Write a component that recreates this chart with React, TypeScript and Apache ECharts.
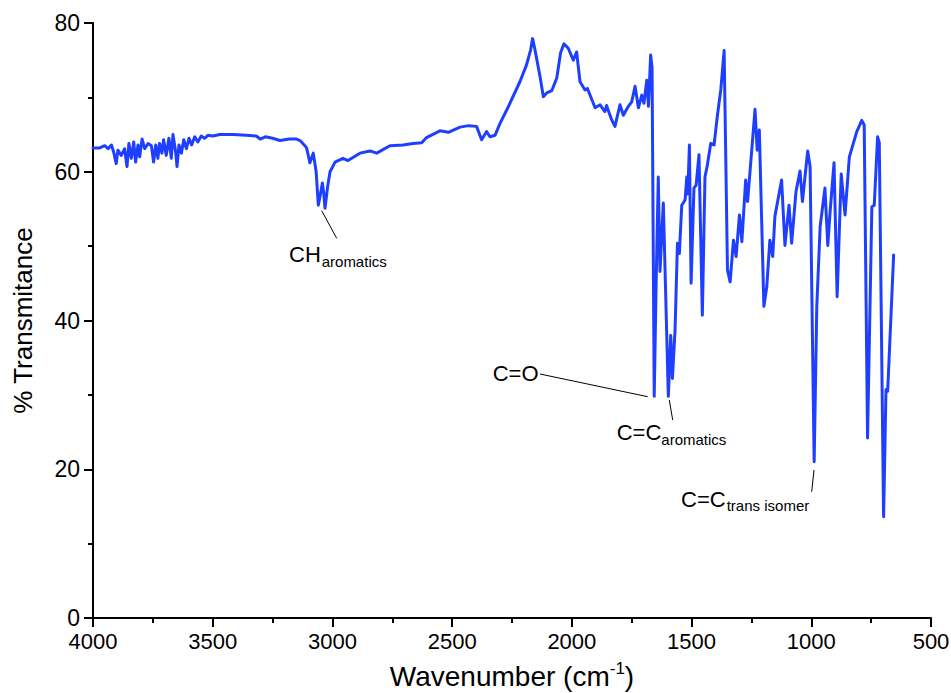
import React, { useEffect, useRef } from "react";
import * as echarts from "echarts";

const FONT = "'Liberation Sans', Arial, Helvetica, sans-serif";

// Wavenumber (cm-1) and % transmittance
const wavenumbers: number[] = [
  4000, 3972, 3951, 3937, 3923, 3914, 3903, 3896, 3882, 3868, 3858, 3850, 3840, 3830, 3822, 3812,
  3805, 3795, 3784, 3770, 3756, 3747, 3738, 3729, 3722, 3712, 3705, 3694, 3683, 3673, 3666, 3655,
  3649, 3641, 3631, 3621, 3610, 3599, 3588, 3575, 3562, 3548, 3534, 3520, 3499, 3471, 3415, 3360,
  3318, 3302, 3280, 3250, 3219, 3180, 3150, 3135, 3115, 3108, 3094, 3080, 3068, 3059, 3050, 3042,
  3036, 3031, 3020, 3010, 2989, 2956, 2935, 2885, 2843, 2815, 2760, 2705, 2663, 2627, 2607, 2551,
  2516, 2467, 2432, 2398, 2377, 2356, 2342, 2321, 2300, 2272, 2217, 2189, 2172, 2164, 2154, 2133,
  2119, 2105, 2084, 2063, 2047, 2033, 2015, 1994, 1980, 1966, 1945, 1935, 1903, 1882, 1862, 1855,
  1834, 1820, 1799, 1785, 1764, 1750, 1736, 1722, 1708, 1699, 1687, 1680, 1671, 1665, 1656, 1648,
  1639, 1632, 1618, 1597, 1587, 1580, 1569, 1559, 1551, 1541, 1527, 1520, 1516, 1509, 1502, 1490,
  1481, 1469, 1455, 1444, 1434, 1420, 1406, 1392, 1378, 1364, 1350, 1339, 1325, 1314, 1300, 1290,
  1274, 1266, 1235, 1226, 1217, 1198, 1186, 1173, 1161, 1152, 1124, 1110, 1093, 1082, 1064, 1047,
  1037, 1015, 1005, 988, 977, 963, 943, 931, 921, 905, 892, 875, 859, 841, 810, 789,
  779, 765, 747, 737, 723, 716, 698, 688, 681, 656,
];

const transmittance: number[] = [
  63.2, 63.2, 63.5, 63.1, 63.6, 62.7, 61.1, 62.9, 62.2, 63.1, 60.7, 63.8, 61.8, 64.0, 61.3, 63.6,
  62.0, 64.4, 63.1, 63.8, 63.5, 61.3, 63.6, 61.8, 63.8, 62.5, 64.3, 62.2, 64.5, 61.8, 65.0, 62.7,
  60.7, 63.6, 62.5, 64.3, 63.1, 64.5, 63.6, 64.7, 64.0, 64.8, 64.5, 64.9, 64.8, 65.0, 65.0, 64.9,
  64.8, 64.4, 64.7, 64.5, 64.2, 64.4, 64.4, 64.2, 63.5, 63.2, 61.2, 62.5, 60.0, 55.5, 57.0, 58.5,
  57.0, 55.1, 58.0, 60.0, 61.3, 61.8, 61.5, 62.5, 62.8, 62.5, 63.5, 63.6, 63.8, 63.9, 64.6, 65.5,
  65.3, 66.0, 66.2, 66.1, 64.3, 65.4, 64.7, 64.9, 66.5, 68.3, 72.1, 74.4, 76.4, 77.9, 76.4, 72.8,
  70.1, 70.6, 70.9, 72.6, 76.0, 77.2, 76.6, 75.0, 76.1, 72.1, 71.0, 71.2, 68.6, 69.0, 68.1, 68.9,
  67.0, 66.1, 69.0, 67.6, 68.8, 69.4, 71.5, 68.6, 70.3, 69.2, 72.3, 68.8, 75.7, 74.0, 29.8, 45.0,
  59.3, 46.6, 55.8, 29.8, 38.0, 32.2, 38.7, 50.4, 49.0, 55.5, 56.2, 59.3, 57.0, 63.6, 45.0, 57.8,
  58.2, 62.3, 40.7, 59.3, 60.9, 63.8, 63.6, 67.6, 71.0, 76.3, 46.8, 45.2, 50.8, 48.6, 54.2, 50.6,
  58.9, 56.0, 68.4, 62.9, 65.6, 41.9, 44.5, 50.8, 48.6, 54.0, 58.9, 50.1, 55.5, 50.4, 57.3, 60.1,
  56.0, 62.8, 60.7, 21.0, 41.9, 52.6, 57.8, 50.1, 54.8, 61.2, 43.2, 59.7, 54.2, 62.0, 65.4, 66.9,
  66.3, 24.2, 55.3, 55.5, 64.7, 63.9, 13.6, 30.7, 30.5, 48.8,
];

const xTicks = { min: 500, max: 4000, step: 500 };
const yTicks = { min: 0, max: 80, step: 20 };

const xTitle = "Wavenumber (cm";
const xTitleSup = "-1";
const yTitle = "% Transmitance";

// Peak annotations: label, subscript
const annotationLabels: string[] = ["CH", "C=O", "C=C", "C=C"];
const annotationSubs: string[] = ["aromatics", "", "aromatics", "trans isomer"];

export default function App() {
  const ref = useRef<HTMLDivElement>(null);

  useEffect(() => {
    document.body.style.margin = "0";
    if (!ref.current) return;
    const chart = echarts.init(ref.current, undefined, { renderer: "svg" });

    const data = wavenumbers.map((w, i) => [w, transmittance[i]]);

    const mainFs = 22;
    const subFs = 15;
    // layout for annotation graphics (pixels)
    const layout = [
      { tx: 289, ty: 254.7, sx: 321.7, sy: 261.8, line: [321.7, 210.7, 336.7, 238.3] },
      { tx: 492.7, ty: 373.4, sx: 0, sy: 0, line: [540, 374, 647.7, 396.7] },
      { tx: 616.7, ty: 432.4, sx: 661.3, sy: 439.5, line: [669.3, 400, 672.7, 420] },
      { tx: 681, ty: 499.1, sx: 726.7, sy: 505.8, line: [814, 470, 811.7, 491.7] },
    ];

    const graphics: any[] = [];
    annotationLabels.forEach((lab, i) => {
      const L = layout[i];
      graphics.push({
        type: "line",
        silent: true,
        shape: { x1: L.line[0], y1: L.line[1], x2: L.line[2], y2: L.line[3] },
        style: { stroke: "#000", lineWidth: 1 },
      });
      graphics.push({
        type: "text",
        x: L.tx,
        y: L.ty,
        style: {
          text: lab,
          fontSize: mainFs,
          fontFamily: FONT,
          fill: "#000",
          align: "left",
          verticalAlign: "middle",
        },
      });
      if (annotationSubs[i]) {
        graphics.push({
          type: "text",
          x: L.sx,
          y: L.sy,
          style: {
            text: annotationSubs[i],
            fontSize: subFs,
            fontFamily: FONT,
            fill: "#000",
            align: "left",
            verticalAlign: "middle",
          },
        });
      }
    });

    chart.setOption({
      animation: false,
      backgroundColor: "#ffffff",
      grid: {
        left: 93,
        right: 20,
        top: 23,
        bottom: 75,
        containLabel: false,
        outerBoundsMode: "none",
      },
      xAxis: {
        type: "value",
        min: xTicks.min,
        max: xTicks.max,
        interval: xTicks.step,
        inverse: true,
        name: `{a|${xTitle}}{b|${xTitleSup}}{a|)}`,
        nameLocation: "middle",
        nameGap: 42,
        nameTextStyle: {
          rich: {
            a: { fontSize: 28, lineHeight: 32, fontFamily: FONT, color: "#000" },
            b: { fontSize: 17, lineHeight: 18, fontFamily: FONT, color: "#000", verticalAlign: "top" },
          },
        },
        axisLine: { show: true, onZero: false, lineStyle: { color: "#000", width: 2 } },
        axisTick: { show: true, inside: false, length: 9, lineStyle: { color: "#000", width: 2 } },
        minorTick: { show: true, splitNumber: 2, length: 5, lineStyle: { color: "#000", width: 2 } },
        axisLabel: {
          fontSize: 22,
          lineHeight: 22,
          fontFamily: FONT,
          color: "#000",
          margin: 12,
          formatter: (v: number) => String(v),
        },
        splitLine: { show: false },
      },
      yAxis: {
        type: "value",
        min: yTicks.min,
        max: yTicks.max,
        interval: yTicks.step,
        name: yTitle,
        nameLocation: "middle",
        nameRotate: 90,
        nameGap: 57,
        nameTextStyle: { fontSize: 26, fontFamily: FONT, color: "#000" },
        axisLine: { show: true, onZero: false, lineStyle: { color: "#000", width: 2 } },
        axisTick: { show: true, inside: false, length: 9, lineStyle: { color: "#000", width: 2 } },
        minorTick: { show: true, splitNumber: 2, length: 5, lineStyle: { color: "#000", width: 2 } },
        axisLabel: {
          fontSize: 23,
          lineHeight: 18,
          fontFamily: FONT,
          color: "#000",
          margin: 13,
          formatter: (v: number) => String(v),
        },
        splitLine: { show: false },
      },
      series: [
        {
          type: "line",
          data,
          showSymbol: false,
          symbol: "none",
          lineStyle: { color: "#1f3fff", width: 3, join: "round", cap: "round" },
          silent: true,
        },
      ],
      graphic: graphics,
    });

    return () => chart.dispose();
  }, []);

  return (
    <div
      ref={ref}
      style={{ position: "fixed", left: 0, top: 0, width: 951, height: 693, background: "#fff" }}
    />
  );
}
